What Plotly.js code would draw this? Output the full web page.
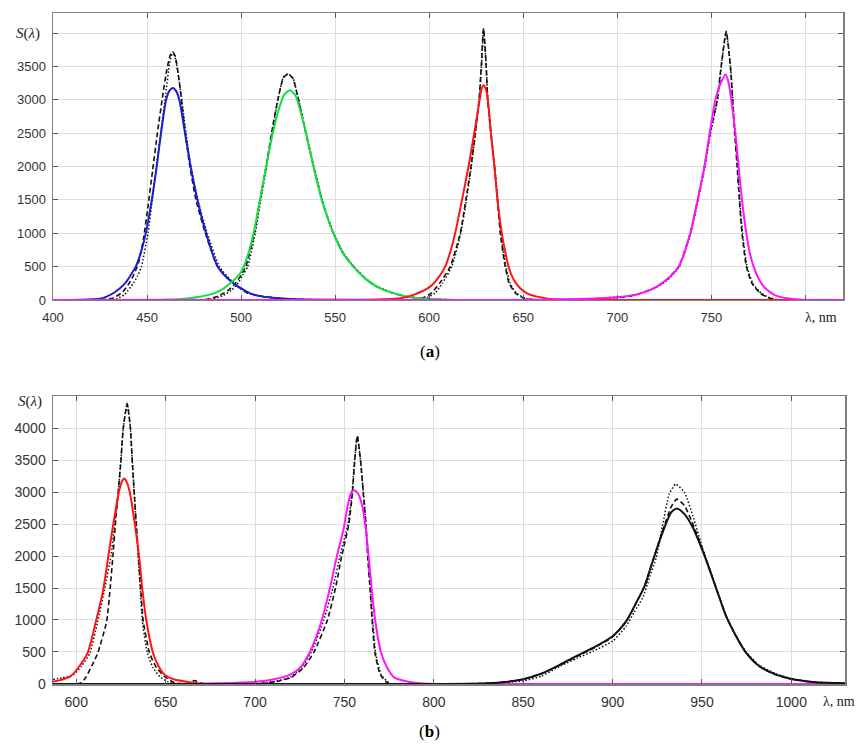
<!DOCTYPE html>
<html>
<head>
<meta charset="utf-8">
<script src="https://cdn.plot.ly/plotly-3.0.1.min.js"></script>
<style>body{margin:0;background:#fff}#chart{width:861px;height:747px}</style>
</head>
<body>
<div id="chart"></div>
<script>
// ---------- Panel (a) ----------
const xTicksA = [400, 450, 500, 550, 600, 650, 700, 750, 800];
const xTickTextA = ['400', '450', '500', '550', '600', '650', '700', '750', ''];
const yTicksA = [0, 500, 1000, 1500, 2000, 2500, 3000, 3500, 4000];
const yTickTextA = ['0', '500', '1000', '1500', '2000', '2500', '3000', '3500', ''];

const blueX = [400, 415, 425, 428.5, 433, 438.3, 441, 444, 447, 449.3, 452.5, 455.1, 457.4, 460.1, 462, 463.7, 465.5, 467.2, 470.2, 473.2, 476.8, 481.4, 487.6, 495, 504.8, 510, 520, 530, 545, 560, 820];
const blueY = [0, 3, 20, 50, 120, 250, 360, 499, 740, 998, 1497, 1996, 2495, 2994, 3140, 3178, 3130, 2994, 2495, 1996, 1497, 998, 499, 270, 100, 58, 25, 10, 3, 0, 0];
const blueDashX = [400, 425, 432, 437, 440.5, 443, 445.5, 448, 450.5, 453, 455.5, 458, 460.5, 462.5, 463.7, 465, 467, 469.5, 472.5, 476, 481, 487.5, 495, 503, 512, 525, 540, 820];
const blueDashY = [0, 0, 30, 120, 250, 380, 560, 900, 1400, 1950, 2500, 3000, 3450, 3680, 3717, 3650, 3300, 2700, 2050, 1500, 1000, 500, 270, 110, 50, 15, 0, 0];
const blueDotX = [400, 428, 434, 438, 442.7, 445, 447, 450.5, 452.8, 455, 457.5, 460, 462, 463.7, 465.2, 467.5, 470, 473, 477, 482, 488.5, 495.5, 503, 512, 525, 540, 820];
const blueDotY = [0, 0, 20, 80, 250, 360, 500, 1000, 1500, 2000, 2550, 3100, 3550, 3717, 3600, 3200, 2650, 2050, 1500, 1000, 500, 270, 110, 50, 15, 0, 0];

const greenX = [400, 450, 460, 470, 478, 485, 490, 495, 500, 503, 506.6, 510, 513.3, 516.8, 519.9, 523, 526, 529, 531.4, 534.6, 538.5, 542.9, 546, 549.1, 554, 559.7, 566, 572.2, 580, 588, 600, 615, 820];
const greenY = [0, 2, 6, 20, 50, 95, 160, 270, 420, 620, 998, 1497, 1996, 2495, 2844, 3080, 3144, 3060, 2844, 2495, 1996, 1497, 1230, 998, 710, 499, 320, 200, 110, 50, 15, 0, 0];
const greenDashX = [400, 480, 488, 493, 497, 500, 502.5, 507, 510, 513.3, 516.5, 519.5, 522.5, 525, 527.5, 530.5, 534, 538.5, 543, 546, 549, 554, 560, 566, 572, 580, 588, 600, 615, 820];
const greenDashY = [0, 0, 60, 140, 250, 370, 500, 1000, 1500, 2000, 2550, 3000, 3330, 3383, 3320, 3000, 2550, 2000, 1497, 1230, 1000, 710, 490, 320, 200, 110, 50, 15, 0, 0];
const greenDotX = [400, 482, 490, 495, 498.5, 501, 503.5, 507.5, 510.5, 513.6, 516.7, 519.6, 522.5, 525, 527.5, 530.6, 534.2, 538.7, 543.2, 546.2, 549.3, 554.3, 560.3, 566.3, 572.5, 580.5, 588.5, 600, 615, 820];
const greenDotY = [0, 0, 60, 150, 260, 380, 500, 1000, 1500, 2000, 2550, 3000, 3340, 3390, 3330, 3000, 2550, 2000, 1497, 1230, 1000, 710, 490, 320, 200, 110, 50, 15, 0, 0];

const redX = [400, 560, 575, 584.6, 592, 600.5, 605, 608.5, 611, 613.8, 617.4, 620.9, 623.9, 626.8, 627.9, 628.9, 630, 631.2, 632.8, 634.7, 636.3, 638.6, 640.3, 642.2, 645, 648.4, 652, 657.3, 663, 670, 680, 820];
const redY = [0, 2, 10, 25, 80, 200, 340, 499, 700, 998, 1497, 1996, 2495, 2994, 3170, 3219, 3170, 2994, 2495, 1996, 1497, 998, 740, 499, 300, 175, 100, 50, 20, 5, 0, 0];
const redDashX = [400, 585, 595, 601, 605.5, 611.2, 616.5, 619.5, 622.2, 624.5, 626.5, 627.7, 628.9, 630.3, 631.1, 632.8, 634.7, 636.3, 637.8, 640.4, 642.5, 646, 651, 660, 820];
const redDashY = [0, 0, 10, 100, 250, 500, 1000, 1500, 2000, 2500, 3000, 3500, 4067, 3500, 3000, 2500, 2000, 1500, 1000, 500, 250, 100, 20, 0, 0];
const redDotX = [400, 588, 597, 603, 607, 612, 616.8, 619.8, 622.4, 624.6, 626.6, 627.8, 628.9, 630.3, 631.2, 632.9, 634.8, 636.5, 638, 640.8, 643, 646.5, 651.5, 660, 820];
const redDotY = [0, 0, 15, 100, 250, 500, 1000, 1500, 2000, 2500, 3000, 3500, 4060, 3500, 3000, 2500, 2000, 1500, 1000, 500, 250, 100, 20, 0, 0];

const magX = [400, 640, 660, 680, 690, 701, 710, 719.3, 726, 732.6, 738.8, 742.7, 746.3, 749.1, 752.1, 755, 757.6, 759.2, 760.6, 762.8, 764.5, 766.3, 768.6, 770.5, 772.5, 775.5, 778.7, 784, 790.3, 800, 820];
const magY = [0, 0, 5, 15, 25, 45, 80, 175, 300, 499, 998, 1497, 1996, 2495, 2994, 3250, 3378, 3250, 2994, 2495, 1996, 1497, 998, 700, 499, 300, 175, 70, 25, 0, 0];
const magDashX = [400, 660, 680, 690, 701, 710, 719.3, 726, 732.6, 738.8, 742.7, 746.3, 749.3, 753.1, 755.2, 757.9, 760.1, 761.3, 762.4, 763.7, 764.9, 766.3, 768.6, 771.6, 776, 780, 785, 790, 820];
const magDashY = [0, 0, 10, 20, 40, 80, 175, 300, 499, 998, 1497, 1996, 2495, 3000, 3500, 4027, 3500, 3000, 2500, 2000, 1500, 1000, 500, 250, 100, 40, 0, 0, 0];
const magDotX = [400, 660, 680, 690, 701, 710, 719.5, 726.3, 733, 739, 743, 746.6, 749.6, 753.3, 755.3, 757.9, 760.2, 761.4, 762.6, 763.9, 765.1, 766.6, 769, 772, 776.5, 780.5, 786, 790, 820];
const magDotY = [0, 0, 8, 18, 38, 75, 170, 290, 499, 998, 1497, 1996, 2495, 3000, 3500, 4020, 3500, 3000, 2500, 2000, 1500, 1000, 500, 250, 100, 40, 0, 0, 0];

// ---------- Panel (b) ----------
const xTicksB = [600, 650, 700, 750, 800, 850, 900, 950, 1000];
const xTickTextB = ['600', '650', '700', '750', '800', '850', '900', '950', '1000'];
const yTicksB = [0, 500, 1000, 1500, 2000, 2500, 3000, 3500, 4000, 4500];
const yTickTextB = ['0', '500', '1000', '1500', '2000', '2500', '3000', '3500', '4000', ''];

const red2X = [587, 591, 596.5, 601, 606.3, 611, 615.1, 617.9, 620.7, 623.8, 625.5, 626.8, 628.3, 630, 632.8, 635.2, 637, 639.3, 643, 646, 649.5, 655, 661.6, 670, 680, 1030];
const red2Y = [36, 60, 115, 250, 481, 977, 1475, 1987, 2494, 2991, 3160, 3211, 3150, 2991, 2494, 1987, 1475, 977, 481, 280, 141, 70, 36, 5, 0, 0];
const red2DashX = [587, 600, 603, 605.6, 609, 612, 617, 619, 620.5, 621.9, 623.5, 625, 626.3, 628.5, 630.3, 631.3, 632.4, 633.6, 634.8, 636, 637.5, 641, 645, 649.5, 655, 660, 663, 666, 670, 675, 681, 685, 690, 1030];
const red2DashY = [0, 0, 20, 115, 300, 481, 977, 1500, 2000, 2500, 3000, 3500, 4000, 4380, 4000, 3500, 3000, 2500, 2000, 1500, 977, 481, 250, 115, 20, 0, 0, 55, 10, 0, 0, 15, 0, 0];
const red2DotX = [587, 592, 598.3, 603, 607.6, 612, 616, 619.4, 621.5, 623.5, 625, 626.3, 628.5, 630.3, 631.3, 632.4, 633.5, 634.6, 635.8, 637, 639.8, 643, 646.8, 651, 656, 1030];
const red2DotY = [70, 95, 140, 280, 481, 977, 1500, 2000, 2500, 3000, 3500, 4000, 4387, 4000, 3500, 3000, 2500, 2000, 1500, 977, 481, 250, 115, 40, 0, 0];

const mag2X = [587, 660, 680, 700, 710, 720, 726, 730.7, 734, 737.4, 741.9, 745.8, 749.5, 751.8, 753.8, 755.5, 757.5, 760, 762, 763.5, 765.2, 767.2, 770.4, 774, 778, 785, 792, 800, 1030];
const mag2Y = [0, 0, 10, 35, 70, 150, 280, 500, 720, 1000, 1500, 2000, 2416, 2781, 2990, 3027, 2980, 2781, 2416, 2000, 1500, 1000, 500, 250, 100, 40, 10, 0, 0];
const mag2DashX = [587, 690, 705, 712, 720, 727, 733, 740.5, 745, 748.5, 752.5, 754.5, 755.8, 757.2, 759, 760.5, 762, 763, 764.3, 765.5, 767, 770, 775, 1030];
const mag2DashY = [0, 0, 10, 40, 100, 250, 500, 1000, 1500, 2000, 2500, 3000, 3500, 3880, 3500, 3000, 2500, 2000, 1500, 1000, 500, 150, 0, 0];
const mag2DotX = [587, 690, 703, 712, 720, 726, 731.5, 738.5, 743.5, 747.5, 752, 754.3, 755.7, 757.2, 759, 760.6, 762.1, 763.2, 764.5, 765.8, 767.4, 770.5, 776, 1030];
const mag2DotY = [0, 0, 10, 45, 110, 260, 500, 1000, 1500, 2000, 2500, 3000, 3500, 3870, 3500, 3000, 2500, 2000, 1500, 1000, 500, 150, 0, 0];

const irX = [587, 800, 820, 830, 840, 850, 860, 870.4, 879.7, 889, 900, 907.6, 913.2, 917.9, 921.6, 925.3, 929, 932.8, 935.9, 940.2, 944.9, 950, 954.2, 958.8, 963.5, 969.1, 974.7, 982.1, 991.4, 1000, 1010.1, 1020, 1030];
const irY = [0, 0, 5, 10, 30, 75, 160, 300, 434, 564, 747, 982, 1270, 1531, 1844, 2158, 2445, 2680, 2743, 2654, 2445, 2106, 1792, 1426, 1061, 747, 486, 277, 146, 78, 37, 18, 10];
const irDashX = [587, 800, 820, 830, 840, 850, 860, 870.4, 879.7, 889, 900, 907.6, 913.2, 917.9, 921.6, 925.3, 929, 932.8, 935.9, 940.2, 944.9, 950, 954.2, 958.8, 963.5, 969.1, 974.7, 982.1, 991.4, 1000, 1010.1, 1020, 1030];
const irDashY = [0, 0, 5, 10, 30, 75, 160, 290, 425, 555, 735, 975, 1265, 1530, 1850, 2170, 2480, 2770, 2889, 2790, 2500, 2130, 1800, 1430, 1061, 747, 486, 277, 146, 78, 37, 18, 10];
const irDotX = [587, 800, 830, 850, 860, 870.4, 880, 889, 900, 907.6, 912, 916.9, 920.5, 924.4, 927.9, 931.7, 935.3, 940.2, 944.9, 950.5, 954.2, 958.8, 963.5, 969.1, 974.7, 982.1, 991.4, 1000, 1010, 1020, 1030];
const irDotY = [0, 0, 5, 50, 120, 277, 400, 512, 669, 904, 1120, 1348, 1650, 1975, 2471, 2968, 3124, 2994, 2628, 2106, 1800, 1430, 1061, 747, 500, 290, 160, 85, 40, 20, 10];

// ---------- build ----------
const BLUE = '#1c1cd2', GREEN = '#12e03c', RED = '#ff1414', MAG = '#ff14ff', BLK = '#111111';
function solid(x, y, c, xa, ya) {
  return {x: x, y: y, xaxis: xa, yaxis: ya, type: 'scatter', mode: 'lines', hoverinfo: 'skip',
    line: {color: c, width: 2, shape: 'spline', smoothing: 0.7}};
}
function dashed(x, y, xa, ya) {
  return {x: x, y: y, xaxis: xa, yaxis: ya, type: 'scatter', mode: 'lines', hoverinfo: 'skip',
    line: {color: BLK, width: 1.6, dash: '5px,3px', shape: 'spline', smoothing: 0.5}};
}
function dotted(x, y, xa, ya) {
  return {x: x, y: y, xaxis: xa, yaxis: ya, type: 'scatter', mode: 'lines', hoverinfo: 'skip',
    line: {color: BLK, width: 1.5, dash: '1.5px,2px', shape: 'spline', smoothing: 0.5}};
}

const traces = [
  dashed(blueDashX, blueDashY, 'x', 'y'), dotted(blueDotX, blueDotY, 'x', 'y'),
  dashed(greenDashX, greenDashY, 'x', 'y'), dotted(greenDotX, greenDotY, 'x', 'y'),
  dashed(redDashX, redDashY, 'x', 'y'), dotted(redDotX, redDotY, 'x', 'y'),
  dashed(magDashX, magDashY, 'x', 'y'), dotted(magDotX, magDotY, 'x', 'y'),
  solid(blueX, blueY, BLUE, 'x', 'y'),
  solid(greenX, greenY, GREEN, 'x', 'y'),
  solid(redX, redY, RED, 'x', 'y'),
  solid(magX, magY, MAG, 'x', 'y'),

  dashed(red2DashX, red2DashY, 'x2', 'y2'), dotted(red2DotX, red2DotY, 'x2', 'y2'),
  dashed(mag2DashX, mag2DashY, 'x2', 'y2'), dotted(mag2DotX, mag2DotY, 'x2', 'y2'),
  dashed(irDashX, irDashY, 'x2', 'y2'), dotted(irDotX, irDotY, 'x2', 'y2'),
  solid(red2X, red2Y, RED, 'x2', 'y2'),
  solid(mag2X, mag2Y, MAG, 'x2', 'y2'),
  solid(irX, irY, BLK, 'x2', 'y2')
];

const tickFont = {family: 'Liberation Sans, Arial, sans-serif', size: 13, color: '#333'};
const tickFont2 = {family: 'Liberation Sans, Arial, sans-serif', size: 14, color: '#333'};
function axisBase(extra) {
  return Object.assign({
    showgrid: true, gridcolor: '#dedede', gridwidth: 1,
    showline: true, linecolor: '#808080', linewidth: 1.5, mirror: 'ticks',
    ticks: 'inside', ticklen: 5, tickcolor: '#555', tickwidth: 1,
    zeroline: false, tickmode: 'array', fixedrange: true
  }, extra);
}

const serif = 'Liberation Serif, Times New Roman, serif';
const layout = {
  width: 861, height: 747,
  margin: {l: 53, r: 16, t: 13, b: 63},
  paper_bgcolor: '#fff', plot_bgcolor: '#fff',
  showlegend: false,
  xaxis: axisBase({domain: [0, 0.9975], range: [400, 820], tickvals: xTicksA, ticktext: xTickTextA, tickfont: tickFont, anchor: 'y', ticklabelstandoff: 5}),
  yaxis: axisBase({domain: [0.5723, 1], range: [0, 4300], tickvals: yTicksA, ticktext: yTickTextA, tickfont: tickFont, anchor: 'x', ticklabelstandoff: 3}),
  xaxis2: axisBase({domain: [0, 1], range: [587, 1030], tickvals: xTicksB, ticktext: xTickTextB, tickfont: tickFont2, anchor: 'y2', ticklabelstandoff: 5}),
  yaxis2: axisBase({domain: [0, 0.4292], range: [0, 4500], tickvals: yTicksB, ticktext: yTickTextB, tickfont: tickFont2, anchor: 'x2', ticklabelstandoff: 3}),
  annotations: [
    {text: '<i>S</i>(<i>λ</i>)', xref: 'paper', yref: 'y', x: -0.031, y: 4000, showarrow: false,
     font: {family: serif, size: 15, color: '#222'}, xanchor: 'center', yanchor: 'middle'},
    {text: '<i>S</i>(<i>λ</i>)', xref: 'paper', yref: 'y2', x: -0.029, y: 4420, showarrow: false,
     font: {family: serif, size: 15, color: '#222'}, xanchor: 'center', yanchor: 'middle'},
    {text: 'λ, nm', xref: 'paper', yref: 'paper', x: 0.970, y: 0.546, showarrow: false,
     font: {family: serif, size: 14, color: '#222'}, xanchor: 'center', yanchor: 'middle'},
    {text: 'λ, nm', xref: 'paper', yref: 'paper', x: 0.9924, y: -0.0255, showarrow: false,
     font: {family: serif, size: 14, color: '#222'}, xanchor: 'center', yanchor: 'middle'},
    {text: '(<b>a</b>)', xref: 'paper', yref: 'paper', x: 0.476, y: 0.4948, showarrow: false,
     font: {family: serif, size: 17, color: '#000'}, xanchor: 'center', yanchor: 'middle'},
    {text: '(<b>b</b>)', xref: 'paper', yref: 'paper', x: 0.476, y: -0.0715, showarrow: false,
     font: {family: serif, size: 17, color: '#000'}, xanchor: 'center', yanchor: 'middle'}
  ]
};

Plotly.newPlot('chart', traces, layout, {staticPlot: true, displayModeBar: false});
</script>
</body>
</html>
